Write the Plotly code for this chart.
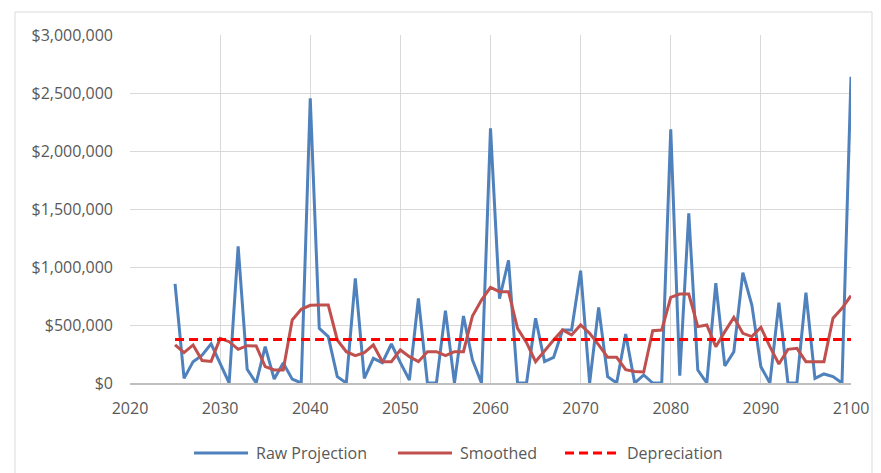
import plotly.graph_objects as go

years = list(range(2025, 2101))

raw_projection = [
    854000, 40000, 184000, 240000, 338000, 175000, 0, 1178000, 118000, 0,
    313000, 34000, 172000, 33000, 0, 2455000, 471000, 400000, 55000, 0,
    902000, 40000, 213000, 175000, 336000, 175000, 26000, 730000, 0, 0,
    624000, 0, 578000, 198000, 0, 2195000, 726000, 1058000, 0, 0,
    558000, 184000, 221000, 457000, 457000, 968000, 0, 652000, 55000, 0,
    422000, 0, 69000, 0, 0, 2187000, 63000, 1463000, 112000, 0,
    860000, 147000, 270000, 951000, 672000, 141000, 0, 693000, 0, 0,
    779000, 40000, 78000, 55000, 0, 2640000,
]

smoothed = [
    328000, 262000, 328000, 193000, 186000, 385000, 356000, 290000, 322000, 320000,
    141000, 112000, 112000, 543000, 635000, 670000, 672000, 672000, 371000, 270000,
    236000, 262000, 328000, 184000, 184000, 285000, 227000, 184000, 270000, 270000,
    236000, 270000, 270000, 578000, 715000, 825000, 787000, 787000, 471000, 348000,
    184000, 279000, 371000, 457000, 414000, 500000, 428000, 328000, 221000, 221000,
    115000, 100000, 95000, 451000, 457000, 738000, 767000, 767000, 486000, 500000,
    313000, 443000, 566000, 428000, 400000, 480000, 313000, 164000, 290000, 299000,
    184000, 184000, 184000, 558000, 644000, 753000,
]

depreciation_value = 375000
depreciation = [depreciation_value] * len(years)

series_names = ["Raw Projection", "Smoothed", "Depreciation"]
series_colors = ["#4f81bd", "#c0504d", "#ff0000"]
series_dash = ["solid", "solid", "9px,5px"]
series_values = [raw_projection, smoothed, depreciation]

FONT = "Open Sans"
TXT = "#595959"
GRID = "#d9d9d9"
LW = 3

fig = go.Figure()
for name, vals, col, dash in zip(series_names, series_values, series_colors, series_dash):
    fig.add_trace(go.Scatter(x=years, y=vals, mode="lines", name=name,
                             line=dict(color=col, width=LW, dash=dash)))

L, R, T, B = 130, 30, 35, 90
W, H = 881, 473
pw, ph = W - L - R, H - T - B

def px(xp):
    return (xp - L) / pw

def py(yp):
    return (H - B - yp) / ph

# legend drawn below the plot, Excel style
legend_line_x = [194, 398, 565]
legend_line_len = 54
legend_text_gap = 6
legend_y = 453

shapes = [dict(type="rect", xref="paper", yref="paper",
               x0=px(15), x1=px(872), y0=py(490), y1=py(12),
               line=dict(color=GRID, width=1), fillcolor="rgba(0,0,0,0)", layer="below")]
annotations = []
for name, col, dash, lx in zip(series_names, series_colors, series_dash, legend_line_x):
    shapes.append(dict(type="line", xref="paper", yref="paper",
                       x0=px(lx), x1=px(lx + legend_line_len), y0=py(legend_y), y1=py(legend_y),
                       line=dict(color=col, width=LW, dash=dash)))
    annotations.append(dict(text=name, xref="paper", yref="paper",
                            x=px(lx + legend_line_len + legend_text_gap), y=py(legend_y),
                            xanchor="left", yanchor="middle", showarrow=False,
                            font=dict(family=FONT, size=16, color=TXT)))

fig.update_layout(
    width=W, height=H,
    margin=dict(l=L, r=R, t=T, b=B, pad=0, autoexpand=False),
    paper_bgcolor="white", plot_bgcolor="white",
    font=dict(family=FONT, size=16, color=TXT),
    showlegend=False,
    xaxis=dict(range=[2020, 2100], tick0=2020, dtick=10, showgrid=True, gridcolor=GRID,
               gridwidth=1.3, zeroline=False, showline=True, linecolor="#bfbfbf", linewidth=1.5,
               ticks="", ticklabelstandoff=10, automargin=False,
               tickfont=dict(family=FONT, size=16, color=TXT)),
    yaxis=dict(range=[0, 3000000], tick0=0, dtick=500000, showgrid=True, gridcolor=GRID,
               gridwidth=1.3, zeroline=False, showline=False, tickprefix="$", tickformat=",d",
               ticks="", ticklabelstandoff=16, automargin=False,
               tickfont=dict(family=FONT, size=16, color=TXT)),
    shapes=shapes,
    annotations=annotations,
)

fig.write_html("out.html")
